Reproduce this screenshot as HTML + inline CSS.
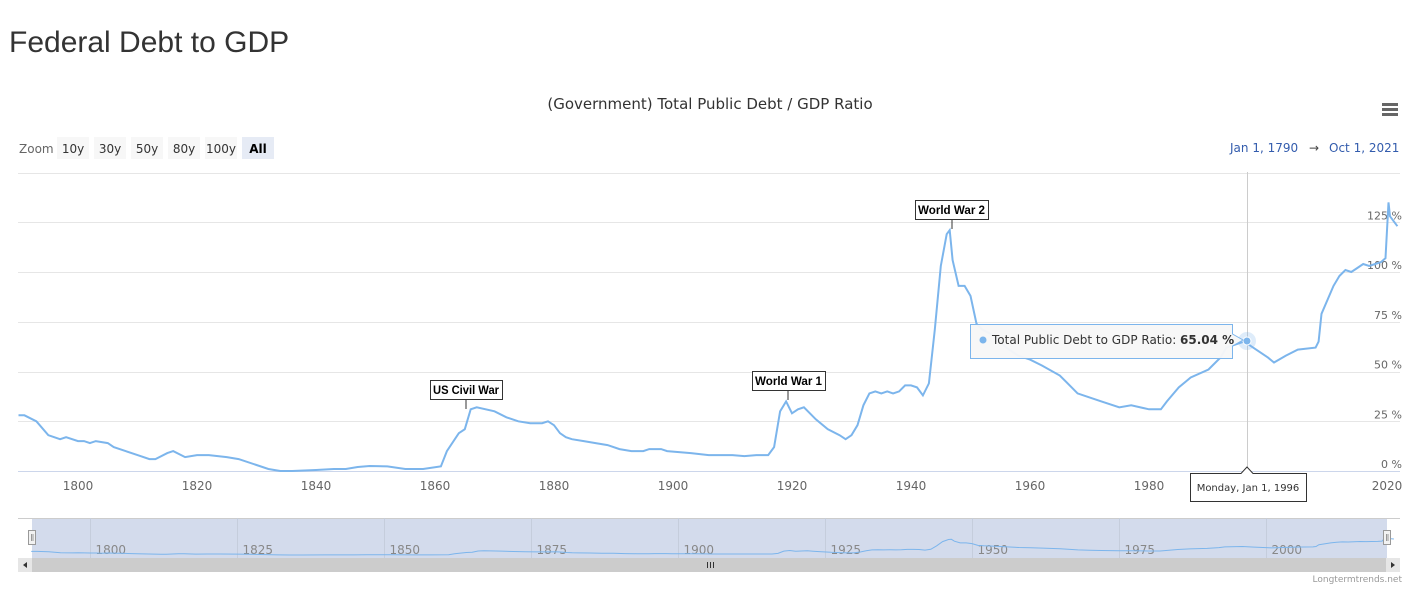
<!DOCTYPE html>
<html><head><meta charset="utf-8"><style>
body{margin:0;background:#fff;width:1408px;height:586px;overflow:hidden;font-family:"Liberation Sans",sans-serif}
svg text{font-family:"DejaVu Sans","Liberation Sans",sans-serif}
svg text.ls{font-family:"Liberation Sans",sans-serif}
</style></head><body>
<svg id="s" width="1408" height="586" xmlns="http://www.w3.org/2000/svg">
<text class="ls" x="9" y="52" font-size="30" fill="#333">Federal Debt to GDP</text>
<text x="710" y="109" text-anchor="middle" font-size="15" fill="#333">(Government) Total Public Debt / GDP Ratio</text>
<g fill="#666"><rect x="1382" y="103" width="16" height="3"/><rect x="1382" y="108" width="16" height="3"/><rect x="1382" y="113" width="16" height="3"/></g>
<text x="19" y="153" font-size="12" fill="#666">Zoom</text>
<g font-size="12" fill="#333" text-anchor="middle">
<rect x="57" y="137" width="32" height="22" fill="#f7f7f7"/><text x="73" y="153">10y</text>
<rect x="94" y="137" width="32" height="22" fill="#f7f7f7"/><text x="110" y="153">30y</text>
<rect x="131" y="137" width="32" height="22" fill="#f7f7f7"/><text x="147" y="153">50y</text>
<rect x="168" y="137" width="32" height="22" fill="#f7f7f7"/><text x="184" y="153">80y</text>
<rect x="205" y="137" width="32" height="22" fill="#f7f7f7"/><text x="221" y="153">100y</text>
<rect x="242" y="137" width="32" height="22" fill="#e6ebf5"/><text x="258" y="153" font-weight="bold" fill="#000">All</text>
</g>
<text x="1230" y="152" font-size="12" fill="#335cad">Jan 1, 1790</text>
<text x="1309" y="152" font-size="12" fill="#444">→</text>
<text x="1329" y="152" font-size="12" fill="#335cad">Oct 1, 2021</text>
<g id="grid" stroke="#e6e6e6" stroke-width="1"></g>
<line x1="18" y1="471.5" x2="1400" y2="471.5" stroke="#ccd6eb"/>
<g id="ylab" font-size="11" fill="#666" text-anchor="end"></g>
<g id="xlab" font-size="12" fill="#666" text-anchor="middle"></g>
<line x1="1247.5" y1="172" x2="1247.5" y2="471" stroke="#ccc"/>
<path id="main" fill="none" stroke="#7cb5ec" stroke-width="2"/>
<circle cx="1247" cy="341" r="9" fill="#7cb5ec" opacity="0.25"/>
<circle cx="1247" cy="341" r="4" fill="#7cb5ec" stroke="#fff"/>
<g font-size="12" font-weight="bold" fill="#000">
<rect x="430.5" y="380.5" width="72" height="19" fill="#fff" stroke="#333"/><text class="ls" x="433" y="394" textLength="66" lengthAdjust="spacingAndGlyphs">US Civil War</text><line x1="466" y1="399" x2="466" y2="409" stroke="#333"/>
<rect x="752.5" y="371.5" width="73" height="19" fill="#fff" stroke="#333"/><text class="ls" x="755" y="385" textLength="67" lengthAdjust="spacingAndGlyphs">World War 1</text><line x1="788" y1="390" x2="788" y2="400" stroke="#333"/>
<rect x="915.5" y="200.5" width="73" height="19" fill="#fff" stroke="#333"/><text class="ls" x="918" y="214" textLength="67" lengthAdjust="spacingAndGlyphs">World War 2</text><line x1="952" y1="219" x2="952" y2="229" stroke="#333"/>
</g>
<path d="M970.5 324.5 H1232.5 V334 L1243 340 L1232.5 346 V358.5 H970.5 Z" fill="#f7f7f7" fill-opacity="0.96" stroke="#7cb5ec"/>
<circle cx="983" cy="340" r="3.5" fill="#7cb5ec"/>
<text x="992" y="344" font-size="12" fill="#333">Total Public Debt to GDP Ratio: <tspan font-weight="bold">65.04 %</tspan></text>
<path d="M1190.5 473.5 H1241 L1247 467 L1253 473.5 H1306.5 V501.5 H1190.5 Z" fill="#fff" stroke="#333"/>
<text x="1248" y="491" font-size="10" fill="#333" text-anchor="middle">Monday, Jan 1, 1996</text>
<rect x="32" y="518" width="1355" height="40" fill="#d3dbec"/>
<line x1="18" y1="518.5" x2="1400" y2="518.5" stroke="#ccc"/>
<g id="navg" stroke="#c5cddc"></g>
<g id="navl" font-size="12" fill="#888"></g>
<path id="nav" fill="none" stroke="#7cb5ec" stroke-width="1"/>
<rect x="28.5" y="530.5" width="7" height="14" fill="#f2f2f2" stroke="#999"/><line x1="31.5" y1="534" x2="31.5" y2="541" stroke="#999"/><line x1="33" y1="534" x2="33" y2="541" stroke="#999"/>
<rect x="1383.5" y="530.5" width="7" height="14" fill="#f2f2f2" stroke="#999"/><line x1="1386.5" y1="534" x2="1386.5" y2="541" stroke="#999"/><line x1="1388" y1="534" x2="1388" y2="541" stroke="#999"/>
<rect x="18" y="558" width="1382" height="14" fill="#cccccc"/>
<rect x="18" y="558" width="14" height="14" fill="#e6e6e6"/>
<rect x="1386" y="558" width="14" height="14" fill="#e6e6e6"/>
<path d="M27 562 L23 565 L27 568Z" fill="#333"/><path d="M1391 562 L1395 565 L1391 568Z" fill="#333"/>
<g stroke="#333"><line x1="707.5" y1="562" x2="707.5" y2="568"/><line x1="710.5" y1="562" x2="710.5" y2="568"/><line x1="713.5" y1="562" x2="713.5" y2="568"/></g>
<text x="1402" y="582" font-size="9" fill="#999" text-anchor="end">Longtermtrends.net</text>
</svg>
<script>
var d=[[1790,28],[1791,28],[1793,25],[1795,18],[1797,16],[1798,17],[1800,15],[1801,15],[1802,14],[1803,15],[1805,14],[1806,12],[1808,10],[1810,8],[1812,6],[1813,6],[1815,9],[1816,10],[1818,7],[1820,8],[1822,8],[1825,7],[1827,6],[1830,3],[1832,1],[1834,0],[1836,0],[1840,0.5],[1843,1],[1845,1],[1847,2],[1849,2.5],[1852,2.3],[1855,1],[1858,1],[1861,2.3],[1862,10],[1864,19],[1865,21],[1866,31],[1867,32],[1870,30],[1872,27],[1874,25],[1876,24],[1878,24],[1879,25],[1880,23],[1881,19],[1882,17],[1883,16],[1885,15],[1887,14],[1889,13],[1891,11],[1893,10],[1895,10],[1896,11],[1898,11],[1899,10],[1903,9],[1906,8],[1908,8],[1910,8],[1912,7.5],[1914,8],[1916,8],[1917,12],[1918,30],[1919,35],[1920,29],[1921,31],[1922,32],[1923,29],[1924,26],[1926,21],[1928,18],[1929,16],[1930,18],[1931,23],[1932,33],[1933,39],[1934,40],[1935,39],[1936,40],[1937,39],[1938,40],[1939,43],[1940,43],[1941,42],[1942,38],[1943,44],[1944,71],[1945,103],[1946,119],[1946.5,121],[1947,106],[1948,93],[1949,93],[1950,88],[1951,74],[1952,71],[1954,68],[1956,62],[1958,58],[1960,56],[1962,53],[1965,48],[1967,42],[1968,39],[1970,37],[1972,35],[1975,32],[1977,33],[1980,31],[1982,31],[1983,35],[1985,42],[1987,47],[1990,51],[1992,57],[1993,62],[1996,65],[1998,61],[2000,57],[2001,54.5],[2003,58],[2005,61],[2008,62],[2008.5,65],[2009,79],[2011,93],[2012,98],[2013,101],[2014,100],[2015,102],[2016,104],[2017,103],[2018,104],[2019,105],[2019.75,107],[2020.25,135],[2020.5,128],[2021,126],[2021.75,123]];
function X(y){return 78+(y-1800)*5.95}function Y(v){return 471-v*1.99}
document.getElementById('main').setAttribute('d','M'+d.map(p=>X(p[0]).toFixed(1)+' '+Y(p[1]).toFixed(1)).join(' L'));
function NX(y){return 90+(y-1800)*5.88}function NY(v){return 555-v*0.13}
document.getElementById('nav').setAttribute('d','M'+d.map(p=>NX(p[0]).toFixed(1)+' '+NY(p[1]).toFixed(1)).join(' L'));
var ns='http://www.w3.org/2000/svg';function el(g,t,a,tx){var e=document.createElementNS(ns,t);for(var k in a)e.setAttribute(k,a[k]);if(tx)e.textContent=tx;document.getElementById(g).appendChild(e)}
for(var v=25;v<=150;v+=25){var y=Math.round(Y(v))+.5;el('grid','line',{x1:18,x2:1400,y1:y,y2:y})}
for(var v=0;v<=125;v+=25)el('ylab','text',{x:1402,y:Y(v)-3},v+' %');
for(var yr=1800;yr<=2020;yr+=20)el('xlab','text',{x:X(yr),y:490},yr);
for(var yr=1800;yr<=2000;yr+=25){var x=Math.round(NX(yr))+.5;el('navg','line',{x1:x,x2:x,y1:518,y2:558});el('navl','text',{x:x+5,y:554},yr)}
</script>
</body></html>
